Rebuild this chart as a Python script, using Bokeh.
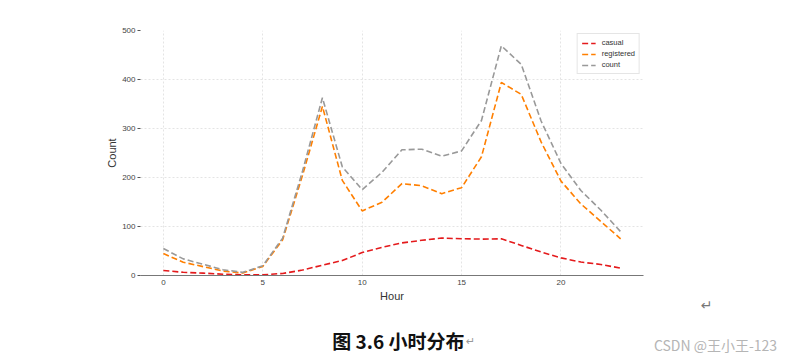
from bokeh.plotting import figure
from bokeh.models import Range1d, Label, Legend, LegendItem, FixedTicker
from bokeh.embed import file_html
from bokeh.resources import INLINE

hours = list(range(24))
casual = [10.3, 6.5, 4.8, 2.7, 1.3, 1.4, 4.2, 11.1, 21.1, 30.6, 46.8, 57.4,
          66.6, 71.8, 76.4, 75.0, 74.3, 74.8, 61.4, 48.0, 36.0, 27.4, 22.6, 15.0]
registered = [44.8, 27.0, 18.1, 9.0, 5.1, 18.5, 73.0, 204.6, 345.2, 194.1, 131.8, 149.6,
              187.6, 183.1, 167.0, 179.3, 242.3, 394.0, 369.6, 272.6, 192.6, 146.1, 110.4, 74.9]
count = [55.1, 33.9, 22.9, 11.8, 6.4, 19.8, 76.3, 213.1, 362.8, 221.8, 175.1, 210.7,
         256.5, 257.8, 243.4, 254.3, 316.4, 468.8, 430.9, 315.3, 228.5, 173.4, 133.6, 89.5]
series_names = ["casual", "registered", "count"]
series_colors = ["#e41a1c", "#ff7f00", "#999999"]
x_ticks = [0, 5, 10, 15, 20]
y_ticks = [0, 100, 200, 300, 400, 500]

p = figure(frame_width=503, frame_height=245, output_backend="svg", toolbar_location=None,
           x_range=Range1d(-1.15, 24.15), y_range=Range1d(0, 500),
           min_border_left=140, min_border_right=139, min_border_top=30, min_border_bottom=82)
p.outline_line_color = None
p.background_fill_color = "white"

renderers = []
for name, vals, col in zip(series_names, [casual, registered, count], series_colors):
    r = p.line(hours, vals, line_color=col, line_width=1.6, line_dash="6 3")
    renderers.append((name, r))

legend = Legend(items=[LegendItem(label=n, renderers=[r]) for n, r in renderers],
                location="top_right", label_text_font_size="7.5px",
                label_text_font="Liberation Sans", label_text_color="#333333",
                glyph_width=14, glyph_height=8, label_height=8, spacing=2,
                padding=4, margin=3, border_line_color="#cccccc",
                background_fill_alpha=1.0, label_standoff=6)
p.add_layout(legend)

for ax in (p.xaxis[0], p.yaxis[0]):
    ax.major_label_text_font_size = "8px"
    ax.major_label_text_font = "Liberation Sans"
    ax.major_label_text_color = "#444444"
    ax.minor_tick_line_color = None
    ax.axis_label_text_font = "Liberation Sans"
    ax.axis_label_text_font_style = "normal"
    ax.axis_label_text_font_size = "11px"
    ax.axis_label_text_color = "#333333"

p.xaxis.ticker = FixedTicker(ticks=x_ticks)
p.yaxis.ticker = FixedTicker(ticks=y_ticks)
p.xaxis.axis_label = "Hour"
p.yaxis.axis_label = "Count"
p.xaxis.axis_line_color = "#777777"
p.xaxis.axis_line_width = 1.2
p.xaxis.major_tick_line_color = None
p.xaxis.major_tick_out = 0
p.xaxis.major_tick_in = 0
p.xaxis.major_label_standoff = 4
p.xaxis.axis_label_standoff = 2
p.yaxis.axis_line_color = None
p.yaxis.major_tick_line_color = "#555555"
p.yaxis.major_tick_out = 3
p.yaxis.major_tick_in = 0
p.yaxis.major_label_standoff = 2
p.yaxis.axis_label_standoff = 1

p.grid.grid_line_color = "#dddddd"
p.grid.grid_line_dash = "2 2"
p.grid.grid_line_width = 0.8

# page texts around the chart, each in a side panel (screen units from that panel)
p.add_layout(Label(x=260, y=-310, x_units="screen", y_units="screen",
                   text="图 3.6  小时分布", text_align="center",
                   text_baseline="middle", text_font="Noto Sans CJK SC",
                   text_font_style="bold", text_font_size="19px", text_color="#111111"), "above")
p.add_layout(Label(x=72, y=-69, x_units="screen", y_units="screen",
                   text="CSDN @王小王-123", text_align="center",
                   text_baseline="middle", text_font="Noto Sans CJK SC",
                   text_font_size="14px", text_color="#b5b5b5"), "right")
p.add_layout(Label(x=566, y=16, x_units="screen", y_units="screen",
                   text="↵", text_align="center",
                   text_baseline="middle", text_font="DejaVu Sans",
                   text_font_size="14px", text_color="#777777"), "below")
p.add_layout(Label(x=376, y=-66, x_units="screen", y_units="screen",
                   text="↵", text_align="center",
                   text_baseline="middle", text_font="DejaVu Sans",
                   text_font_size="11px", text_color="#999999"), "left")

open("out.html", "w").write(file_html(p, INLINE))
